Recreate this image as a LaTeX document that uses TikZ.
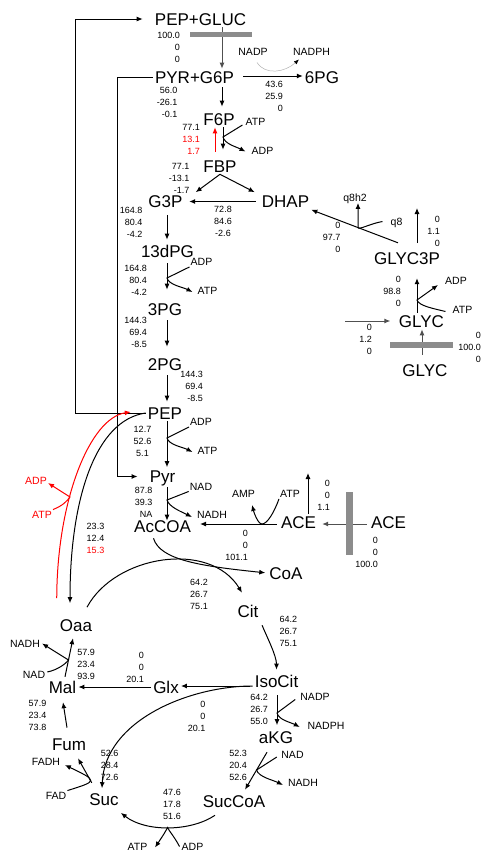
\documentclass[tikz,border=0pt]{standalone}
\usepackage{fontspec}
\setmainfont{Liberation Sans}
\usetikzlibrary{arrows.meta,calc}
\definecolor{barc}{RGB}{140,140,140}
\definecolor{thru}{RGB}{80,80,80}
\begin{document}
\begin{tikzpicture}[x=1pt,y=-1pt,
  met/.style={font=\fontsize{17}{17}\selectfont, inner sep=2pt, text height=12.2pt, text depth=0pt},
  cof/.style={font=\fontsize{10.5}{10.5}\selectfont, inner sep=1pt, text height=7.5pt, text depth=0pt},
  num/.style={font=\fontsize{9}{12}\selectfont, inner sep=0pt, align=center},
  numr/.style={font=\fontsize{9}{12}\selectfont, inner sep=0pt, align=right, anchor=east},
  arr/.style={line width=1pt, -{Latex[length=6pt,width=5pt]}},
  bar/.style={fill=barc, draw=none, inner sep=0pt},
]
\useasboundingbox (0,0) rectangle (483,852);
% guide coordinates
\coordinate (colA) at (222,0);
\coordinate (colF) at (223,0);
\coordinate (colR) at (215,0);
\coordinate (colG) at (167,0);
\coordinate (colI) at (277,0);
\coordinate (colY) at (422,0);
\coordinate (colY2) at (417,0);
\coordinate (leftA) at (75,0);
\coordinate (leftB) at (117,0);
\coordinate (brF) at (223,137);
\coordinate (br13) at (167,278);
\coordinate (brP) at (167,438);
\coordinate (brY) at (167,500);
\coordinate (brA) at (262,524);
\coordinate (aceUp) at (308,473);
\coordinate (glyUp) at (417,208);
\coordinate (glyIn) at (345,321);
\coordinate (brQ) at (358,227.5);
\coordinate (brG) at (417,300);
\coordinate (brI) at (277,713);
\coordinate (brK) at (256.6,770);
\coordinate (brS) at (167.6,827.5);
\coordinate (brM) at (68.5,660);
\coordinate (brR) at (70,497);

% metabolites
\node[met] (PEPGLUC) at (200.5,19) {PEP+GLUC};
\node[met] (PYRG6P) at (194.5,77) {PYR+G6P};
\node[met] (SixPG) at (322,77) {6PG};
\node[met] (F6P) at (219,119) {F6P};
\node[met] (FBP) at (220,166) {FBP};
\node[met] (G3P) at (165.5,201.5) {G3P};
\node[met] (DHAP) at (285.5,201.5) {DHAP};
\node[met] (dPG) at (167.5,251) {13dPG};
\node[met] (ThreePG) at (165,309) {3PG};
\node[met] (TwoPG) at (165,364) {2PG};
\node[met] (PEP) at (165,413) {PEP};
\node[met] (Pyr) at (162.5,476.5) {Pyr};
\node[met] (AcCOA) at (162.5,526) {AcCOA};
\node[met] (ACEm) at (298.5,522.5) {ACE};
\node[met] (ACEr) at (388.5,522.5) {ACE};
\node[met] (CoA) at (286,573) {CoA};
\node[met] (Cit) at (248,611) {Cit};
\node[met] (IsoCit) at (276.5,681) {IsoCit};
\node[met] (Glx) at (166,687) {Glx};
\node[met] (Mal) at (62.5,687.5) {Mal};
\node[met] (Oaa) at (76,625.5) {Oaa};
\node[met] (aKG) at (276,737.5) {aKG};
\node[met] (SucCoA) at (234,801) {SucCoA};
\node[met] (Suc) at (104,799.5) {Suc};
\node[met] (Fum) at (69,744) {Fum};
\node[met] (GLYCiiiP) at (407,258.5) {GLYC3P};
\node[met] (GLYCu) at (421.5,321) {GLYC};
\node[met] (GLYCl) at (425,370) {GLYC};

% cofactors
\node[cof] (NADPa) at (253,51.5) {NADP};
\node[cof] (NADPHa) at (311.5,51.5) {NADPH};
\node[cof] (ATPf) at (255.5,122) {ATP};
\node[cof] (ADPf) at (262.5,150.5) {ADP};
\node[cof] (ADPd) at (201.5,262) {ADP};
\node[cof] (ATPd) at (207.5,290.5) {ATP};
\node[cof] (ADPp) at (201,422) {ADP};
\node[cof] (ATPp) at (207.5,450.5) {ATP};
\node[cof] (NADy) at (201,486.5) {NAD};
\node[cof] (NADHy) at (212,514.5) {NADH};
\node[cof, text=red] (ADPr) at (36,480.5) {ADP};
\node[cof, text=red] (ATPr) at (42,514.5) {ATP};
\node[cof] (AMP) at (243.5,494) {AMP};
\node[cof] (ATPa) at (290,494) {ATP};
\node[cof] (q8h2) at (355,198) {q8h2};
\node[cof] (q8) at (396.5,221.5) {q8};
\node[cof] (ADPg) at (456,280.5) {ADP};
\node[cof] (ATPg) at (462.5,309.5) {ATP};
\node[cof] (NADPi) at (315,696.5) {NADP};
\node[cof] (NADPHi) at (326,725.5) {NADPH};
\node[cof] (NADk) at (292.5,754.5) {NAD};
\node[cof] (NADHk) at (303,782.5) {NADH};
\node[cof] (NADHm) at (25,643.5) {NADH};
\node[cof] (NADm) at (34,675) {NAD};
\node[cof] (FADH) at (46,762) {FADH};
\node[cof] (FAD) at (56,795.5) {FAD};
\node[cof] (ATPs) at (137.5,846.5) {ATP};
\node[cof] (ADPs) at (192.5,846.5) {ADP};

% flux numbers
\node[numr] (n1) at (180,47.7) {100.0\\0\\0};
\node[numr] (n2) at (177.5,102.5) {56.0\\-26.1\\-0.1};
\node[numr] (n3) at (283,96) {43.6\\25.9\\0};
\node[numr] (n4) at (200,139) {77.1\\\textcolor{red}{13.1}\\\textcolor{red}{1.7}};
\node[numr] (n5) at (189.5,178.7) {77.1\\-13.1\\-1.7};
\node[num] (n6) at (223,221) {72.8\\84.6\\-2.6};
\node[numr] (n7) at (142.5,222) {164.8\\80.4\\-4.2};
\node[numr] (n8) at (147,280) {164.8\\80.4\\-4.2};
\node[numr] (n9) at (147,332.5) {144.3\\69.4\\-8.5};
\node[numr] (n10) at (203,386) {144.3\\69.4\\-8.5};
\node[num] (n11) at (142.5,441.7) {12.7\\52.6\\5.1};
\node[numr] (n12) at (152.5,502) {87.8\\39.3\\NA};
\node[num] (n13) at (95.5,538.5) {23.3\\12.4\\\textcolor{red}{15.3}};
\node[numr] (n14) at (330,495) {0\\0\\1.1};
\node[numr] (n15) at (248,545) {0\\0\\101.1};
\node[numr] (n16) at (378,552) {0\\0\\100.0};
\node[numr] (n17) at (340.5,237) {0\\97.7\\0};
\node[numr] (n18) at (440,231) {0\\1.1\\0};
\node[numr] (n19) at (401,291) {0\\98.8\\0};
\node[numr] (n20) at (372,339.5) {0\\1.2\\0};
\node[numr] (n21) at (481,347) {0\\100.0\\0};
\node[num] (n22) at (199,594) {64.2\\26.7\\75.1};
\node[num] (n23) at (288.3,631.7) {64.2\\26.7\\75.1};
\node[numr] (n24) at (144,667) {0\\0\\20.1};
\node[numr] (n25) at (205.5,716) {0\\0\\20.1};
\node[numr] (n26) at (268,709) {64.2\\26.7\\55.0};
\node[numr] (n27) at (247,765) {52.3\\20.4\\52.6};
\node[num] (n28) at (172,804.8) {47.6\\17.8\\51.6};
\node[numr] (n29) at (118.5,765.5) {52.6\\28.4\\72.6};
\node[num] (n30) at (37.5,715.7) {57.9\\23.4\\73.8};
\node[numr] (n31) at (95,664.3) {57.9\\23.4\\93.9};

% PTS loop
\draw[arr] (PEP.west) -- (PEP.west -| leftA) |- ([xshift=-10pt]PEPGLUC.west);
\draw[arr] (PYRG6P.west) -- (PYRG6P.west -| leftB) |- ([xshift=-10pt]Pyr.west);
\draw[arr, draw=thru] (PEPGLUC.south -| colA) -- (PYRG6P.north -| colA);
\node[bar, minimum width=62pt, minimum height=5pt] (bar1) at (221,34.5) {};
\draw[arr] ($(PYRG6P.east)+(7,-1)$) -- ($(SixPG.west)+(0,-1)$);
\draw[line width=0.5pt, draw=gray!60, -{Latex[length=5pt,width=4pt,color=black]}] ($(NADPa.south)+(4,6)$) .. controls +(8,13) and +(-14,13) .. ($(NADPHa.south west)+(7,3)$);

% upper glycolysis
\draw[arr, shorten <=2pt, shorten >=4pt] (PYRG6P.south -| colA) -- (F6P.north -| colA);
\draw[arr, shorten >=8pt] (F6P.south -| colF) -- (FBP.north -| colF);
\draw[arr, red, shorten <=6pt] (FBP.north -| colR) -- (F6P.south -| colR);
\draw[arr] ($(ATPf.west)+(-2,3)$) -- (brF) .. controls +(2,7) and +(-10,-5) .. ($(ADPf.west)+(-5,1)$);
\draw[arr] (FBP.south) -- ($(G3P.north east)+(11,-1)$);
\draw[arr] (FBP.south) -- ($(DHAP.north west)+(-5,-1)$);
\draw[arr, shorten <=4pt, shorten >=4.5pt] (DHAP.west) -- (G3P.east);

% lower glycolysis
\draw[arr, shorten <=5pt, shorten >=3pt] (G3P.south -| colG) -- (dPG.north -| colG);
\draw[arr, shorten <=4pt, shorten >=11pt] (dPG.south -| colG) -- (ThreePG.north -| colG);
\draw[arr, shorten <=3pt, shorten >=9pt] (ThreePG.south -| colG) -- (TwoPG.north -| colG);
\draw[arr, shorten <=3pt, shorten >=3pt] (TwoPG.south -| colG) -- (PEP.north -| colG);
\draw[arr, shorten >=1pt] (PEP.south -| colG) -- (Pyr.north -| colG);
\draw[arr, shorten <=2pt, shorten >=-3pt] (Pyr.south -| colG) -- (AcCOA.north -| colG);
\draw[arr] (ADPd.south west) -- (br13) .. controls +(2,7) and +(-10,-5) .. ($(ATPd.west)+(-4,1.5)$);
\draw[arr] (ADPp.south west) -- (brP) .. controls +(2,7) and +(-10,-5) .. ($(ATPp.west)+(-4,1.5)$);
\draw[arr] (NADy.south west) -- (brY) .. controls +(2,7) and +(-10,-5) .. ($(NADHy.west)+(-4,2.5)$);

% PEP <-> Oaa
\draw[arr] (PEP.west) .. controls (95,420) and (70,500) .. ($(Oaa.north)+(-6,-14)$);
\draw[arr, red] ($(Oaa.north west)+(-1,-19)$) .. controls (57,500) and (90,418) .. ($(PEP.west)+(-15,-1)$);
\draw[arr, red] (ATPr.north east) .. controls +(10,-4) and +(-3,4) .. (brR) -- ($(ADPr.east)+(0,2.5)$);

% acetate
\draw[arr, draw=thru, shorten <=2pt, shorten >=4pt] ($(ACEr.west)+(0,1.5)$) -- ($(ACEm.east)+(0,1.5)$);
\node[bar, minimum width=7pt, minimum height=63pt] (bar2) at (349.5,523.5) {};
\draw[arr, shorten <=2pt, shorten >=7pt] ($(ACEm.west)+(0,1.5)$) -- ($(ACEm.west -| AcCOA.east)+(0,1.5)$);
\draw[arr] (ATPa.south west) .. controls +(-5,14) and +(5,0) .. (brA) .. controls +(-4,0) and +(2,8) .. ($(AMP.south east)+(-4,6)$);
\draw[arr] ($(ACEm.north)+(9.5,0)$) -- (aceUp);

% TCA
\draw[arr, shorten >=2pt] ($(AcCOA.south)+(-9,4)$) .. controls (160,560) and (200,566) .. (CoA.west);
\draw[arr] ($(Oaa.north)+(11,-10)$) .. controls (115,555) and (210,540) .. ($(Cit.north)+(-6,-10)$);
\draw[arr] ($(Cit.south east)+(1.5,6)$) .. controls +(5,12) and +(0,-14) .. ($(IsoCit.north)+(0,-3)$);
\draw[arr, shorten <=3pt] ($(IsoCit.west)+(0,5)$) -- ($(IsoCit.west -| Glx.east)+(0,5)$);
\draw[arr] (Glx.west) -- (Glx.west -| Mal.east);
\draw[arr] ($(IsoCit.west)+(0,5)$) .. controls (190,686) and (105,720) .. ($(Suc.north)+(-2,-3)$);
\draw[arr, shorten <=6pt, shorten >=4pt] (IsoCit.south -| colI) -- (aKG.north -| colI);
\draw[arr] ($(NADPi.west)+(-4,3)$) -- (brI) .. controls +(2,7) and +(-10,-5) .. ($(NADPHi.west)+(-6.6,1.5)$);
\draw[arr] ($(aKG.south)+(-9,6.4)$) -- ($(SucCoA.north)+(11,-3)$);
\draw[arr] ($(NADk.west)+(-3.4,2.5)$) -- (brK) .. controls +(2,7) and +(-10,-5) .. ($(NADHk.west)+(-4,2.5)$);
\draw[arr] ($(SucCoA.south)+(-19,6)$) .. controls (190,832) and (145,832) .. ($(Suc.south east)+(0,5)$);
\draw[arr] ($(ADPs.west)+(-1,0)$) .. controls (174,836) and (169,831) .. (brS) .. controls (164,834) .. ($(ATPs.east)+(6.5,1)$);
\draw[arr] ($(Suc.north west)+(4.6,-8.4)$) -- ($(Fum.south)+(9,6)$);
\draw[arr] (FAD.north east) .. controls (98,781) and (98,781) .. ($(FADH.east)+(3.7,3)$);
\draw[arr] ($(Fum.north)+(-2,-8)$) -- ($(Mal.south)+(0.5,6.4)$);
\draw[arr] ($(Mal.north)+(2.5,-2.4)$) -- ($(Oaa.south)+(-3,4.4)$);
\draw[arr] ($(NADm.east)+(1,-3)$) .. controls +(10,-2) and +(-3,4) .. (brM) -- ($(NADHm.east)+(1,0)$);

% glycerol
\draw[arr, draw=thru, shorten <=7pt] (GLYCl.north -| colY) -- (GLYCu.south -| colY);
\node[bar, minimum width=63pt, minimum height=6.5pt] (bar3) at (421.5,345) {};
\draw[arr, draw=thru, shorten >=6.4pt] (glyIn) -- (GLYCu.west);
\draw[arr, shorten >=11.4pt] (GLYCu.north -| colY2) -- (GLYCiiiP.south -| colY2);
\draw[arr] ($(ATPg.west)+(-6,2)$) .. controls +(-12,-3) and +(2,6) .. (brG) -- ($(ADPg.west)+(-6,4.5)$);
\draw[arr] ($(GLYCiiiP.north -| colY2)+(0,-7)$) -- (glyUp);
\draw[arr] ($(GLYCiiiP.north)+(-9,-7.4)$) -- (DHAP.south east);
\draw[arr] ($(q8.west)+(-7,0)$) .. controls +(-12,2) and +(0,3) .. (brQ) -- (q8h2.south -| brQ);
\end{tikzpicture}
\end{document}
